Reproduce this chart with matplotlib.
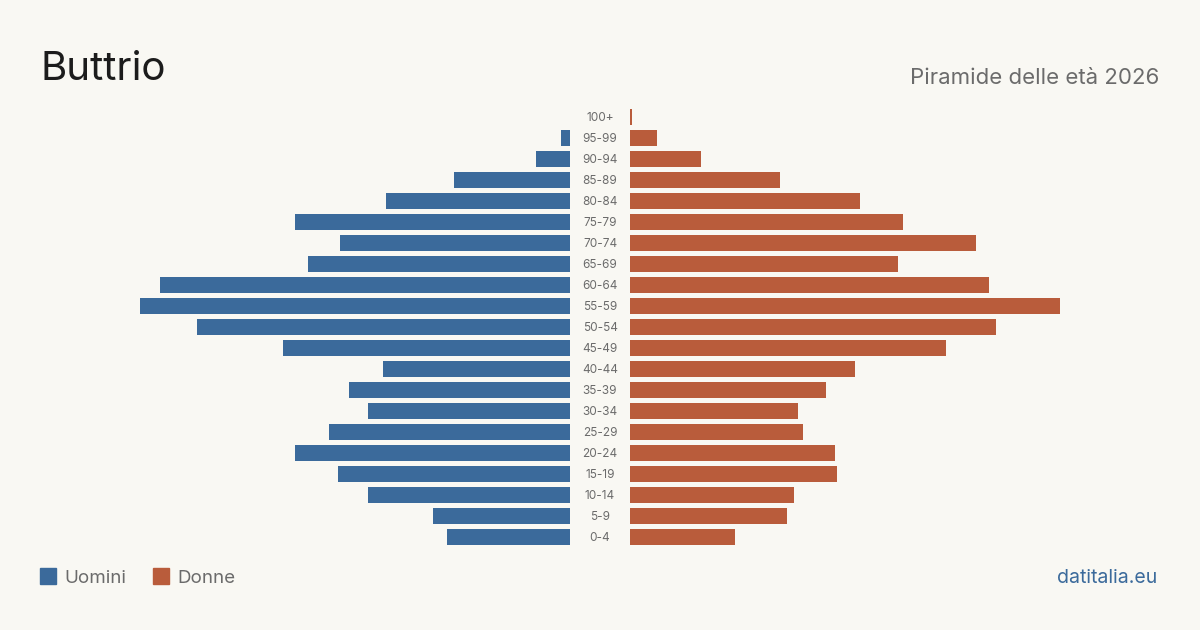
import matplotlib
matplotlib.use("Agg")
import matplotlib.pyplot as plt
from matplotlib.patches import Rectangle

plt.rcParams['font.family'] = ['Inter', 'DejaVu Sans']

age_groups = ["100+", "95-99", "90-94", "85-89", "80-84", "75-79", "70-74", "65-69",
              "60-64", "55-59", "50-54", "45-49", "40-44", "35-39", "30-34", "25-29",
              "20-24", "15-19", "10-14", "5-9", "0-4"]
men = [0, 9, 34, 116, 184, 275, 230, 262, 410, 430, 373, 287, 187, 221, 202, 241,
       275, 232, 202, 137, 123]
women = [2, 27, 71, 150, 230, 273, 346, 268, 359, 430, 366, 316, 225, 196, 168, 173,
         205, 207, 164, 157, 105]

BG = "#f9f8f3"
BLUE = "#3b6a9b"
RED = "#b95c3b"
W, H = 1200, 630

fig = plt.figure(figsize=(12, 6.3), dpi=100)
fig.patch.set_facecolor(BG)

vmax = max(max(men), max(women))
n = len(age_groups)
ypos = list(range(n))

top_px = 117 - 10.5
bot_px = 537 + 10.5
ax_b = 1 - bot_px / H
ax_h = (bot_px - top_px) / H

axL = fig.add_axes([140 / W, ax_b, 430 / W, ax_h])
axR = fig.add_axes([630 / W, ax_b, 430 / W, ax_h])
for ax in (axL, axR):
    ax.set_facecolor("none")
    ax.set_ylim(n - 0.5, -0.5)
    for s in ax.spines.values():
        s.set_visible(False)
    ax.set_xticks([])
    ax.set_yticks([])

axL.barh(ypos, men, height=0.79, color=BLUE)
axL.set_xlim(vmax, 0)
axR.barh(ypos, women, height=0.79, color=RED)
axR.set_xlim(0, vmax)

for i, lab in enumerate(age_groups):
    axR.text(-30 * vmax / 430, i + 0.05, lab, ha="center", va="center", fontsize=8.5,
             color="#6b6b6b", clip_on=False)

fig.text(40 / W, 1 - 80 / H, "Buttrio", fontsize=29, color="#1c1c1c",
         ha="left", va="baseline")
fig.text(1159 / W, 1 - 84 / H, "Piramide delle età 2026", fontsize=16,
         color="#6b6b6b", ha="right", va="baseline")

fig.patches.append(Rectangle((40 / W, 1 - 584 / H), 16 / W, 16 / H,
                             transform=fig.transFigure, color=BLUE))
fig.text(64 / W, 1 - 583 / H, "Uomini", fontsize=13.5, color="#6b6b6b",
         ha="left", va="baseline")
fig.patches.append(Rectangle((153 / W, 1 - 584 / H), 16 / W, 16 / H,
                             transform=fig.transFigure, color=RED))
fig.text(177 / W, 1 - 583 / H, "Donne", fontsize=13.5, color="#6b6b6b",
         ha="left", va="baseline")

fig.text(1157 / W, 1 - 583 / H, "datitalia.eu", fontsize=14, color="#3b6a9b",
         ha="right", va="baseline")

fig.savefig("out.png", dpi=100, facecolor=BG)
